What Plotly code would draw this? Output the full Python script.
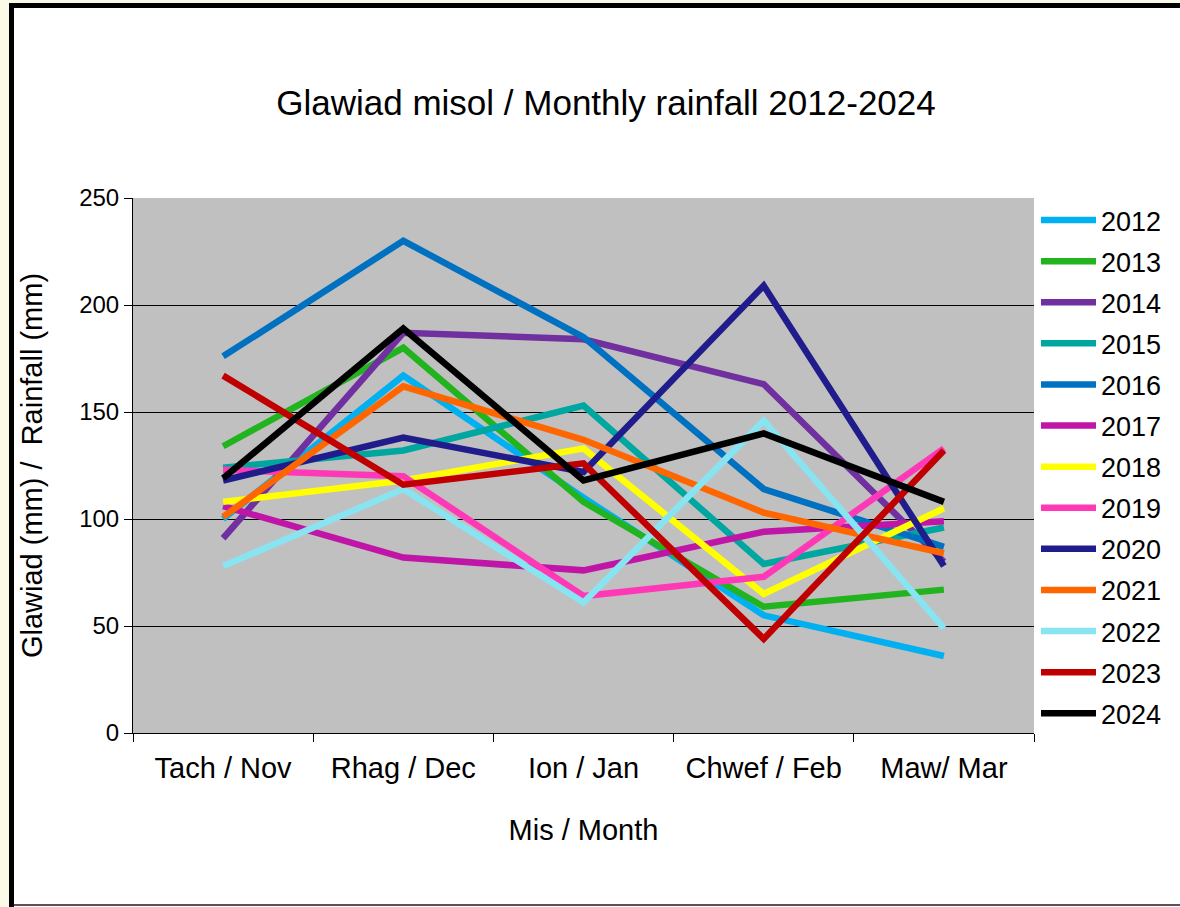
import plotly.graph_objects as go

months = ["Tach / Nov", "Rhag / Dec", "Ion / Jan", "Chwef / Feb", "Maw/ Mar"]
years = ["2012", "2013", "2014", "2015", "2016", "2017", "2018",
         "2019", "2020", "2021", "2022", "2023", "2024"]

r2012 = [100, 167, 110, 55, 36]
r2013 = [134, 180, 108, 59, 67]
r2014 = [91, 187, 184, 163, 80]
r2015 = [124, 132, 153, 79, 96]
r2016 = [176, 230, 185, 114, 87]
r2017 = [106, 82, 76, 94, 99]
r2018 = [108, 118, 133, 65, 105]
r2019 = [123, 120, 64, 73, 133]
r2020 = [118, 138, 122, 209, 78]
r2021 = [101, 162, 137, 103, 84]
r2022 = [78, 114, 61, 146, 49]
r2023 = [167, 116, 126, 44, 132]
r2024 = [119, 189, 118, 140, 108]

series = [r2012, r2013, r2014, r2015, r2016, r2017, r2018,
          r2019, r2020, r2021, r2022, r2023, r2024]
colors = ["#00b0f0", "#22b41e", "#7030a0", "#00a6a0", "#0070c0", "#c016a8",
          "#ffff00", "#ff38b8", "#201c8c", "#ff6600", "#88e4f0", "#c00000", "#000000"]

fig = go.Figure()
for y, vals, c in zip(years, series, colors):
    fig.add_trace(go.Scatter(x=months, y=vals, name=y, mode="lines",
                             legendgroup=y,
                             line=dict(color=c, width=6.5)))

L, R, T, B = 133, 1034, 198, 733
W, H = 1180, 907
def px(x):
    return (x - L) / (R - L)
def py(y):
    return (B - y) / (B - T)

shapes = [
    dict(type="rect", xref="paper", yref="paper", x0=px(0), x1=px(9), y0=py(H), y1=py(0),
         fillcolor="#fafae6", line=dict(width=0), layer="below"),
    dict(type="rect", xref="paper", yref="paper", x0=px(0), x1=px(W), y0=py(3), y1=py(0),
         fillcolor="#fafae6", line=dict(width=0), layer="below"),
    dict(type="rect", xref="paper", yref="paper", x0=px(9), x1=px(14), y0=py(H), y1=py(3),
         fillcolor="#000000", line=dict(width=0), layer="below"),
    dict(type="rect", xref="paper", yref="paper", x0=px(9), x1=px(W), y0=py(8), y1=py(3),
         fillcolor="#000000", line=dict(width=0), layer="below"),
    dict(type="line", xref="paper", yref="paper", x0=px(14), x1=px(W), y0=py(905), y1=py(905),
         line=dict(color="#555555", width=2), layer="below"),
]

font = "Liberation Sans, Arial, sans-serif"
fig.update_layout(
    width=W, height=H,
    margin=dict(l=L, r=W - R, t=T, b=H - B),
    paper_bgcolor="white",
    plot_bgcolor="#c0c0c0",
    font=dict(family=font, color="black", size=24),
    title=dict(text="Glawiad misol / Monthly rainfall 2012-2024",
               x=606 / W, xanchor="center",
               y=1 - 103 / H, yanchor="middle",
               font=dict(size=35, family=font, color="black")),
    showlegend=True,
    legend=dict(x=px(1036), xanchor="left", y=py(196), yanchor="top",
                font=dict(size=27, family=font), tracegroupgap=3,
                bgcolor="rgba(0,0,0,0)", itemwidth=55, maxheight=900),
    shapes=shapes,
    xaxis=dict(
        title=dict(text="Mis / Month", font=dict(size=29), standoff=36),
        showline=True, linecolor="black", linewidth=1,
        ticks="outside", ticklen=8, tickcolor="black",
        tickson="boundaries", showgrid=False, ticklabelstandoff=9,
        tickfont=dict(size=29), range=[-0.5, 4.5],
    ),
    yaxis=dict(
        title=dict(text="Glawiad (mm) /  Rainfall (mm)", font=dict(size=29), standoff=28),
        range=[0, 250], dtick=50,
        showline=True, linecolor="black", linewidth=1,
        ticks="outside", ticklen=8, tickcolor="black",
        showgrid=True, gridcolor="black", gridwidth=1,
        zeroline=False, tickfont=dict(size=24),
    ),
)

fig.write_html("out.html", config={"displayModeBar": False},
               post_script="document.body.style.margin='0';")
